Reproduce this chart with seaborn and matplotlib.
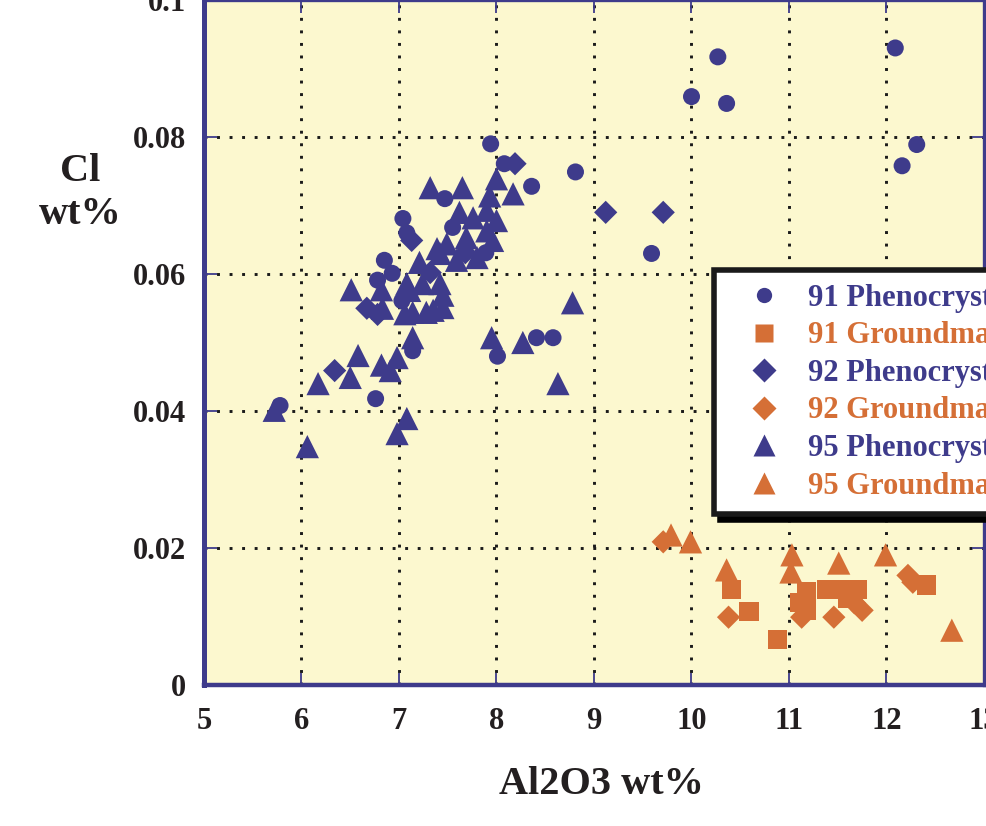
import matplotlib
matplotlib.use("Agg")
import matplotlib.pyplot as plt
from matplotlib.lines import Line2D
import seaborn as sns
import pandas as pd

# ---------------- data ----------------
p91_al = [7.94, 8.81, 8.36, 8.08, 7.47, 7.04, 7.08, 6.85, 6.93, 6.78, 7.89, 7.55, 7.03,
          7.14, 8.01, 8.41, 8.58, 6.76, 5.78, 9.59, 10.00, 10.27, 10.36, 12.09, 12.16, 12.31]
p91_cl = [0.0790, 0.0749, 0.0728, 0.0761, 0.0710, 0.0681, 0.0660, 0.0620, 0.0601, 0.0591, 0.0631, 0.0668, 0.0561,
          0.0488, 0.0480, 0.0507, 0.0507, 0.0418, 0.0408, 0.0630, 0.0859, 0.0917, 0.0849, 0.0930, 0.0758, 0.0789]

g91_al = [10.41, 10.59, 10.88, 11.18, 11.18, 11.39, 11.55, 11.70, 11.60, 12.41, 11.11]
g91_cl = [0.0139, 0.0107, 0.0066, 0.0136, 0.0109, 0.0139, 0.0139, 0.0139, 0.0127, 0.0146, 0.0121]

p92_al = [8.19, 9.12, 9.71, 7.13, 6.67, 6.78, 6.34, 7.32, 7.68]
p92_cl = [0.0761, 0.0690, 0.0690, 0.0649, 0.0550, 0.0541, 0.0459, 0.0602, 0.0631]

g92_al = [9.71, 10.38, 11.13, 11.46, 11.75, 12.22, 12.27, 11.67]
g92_cl = [0.0209, 0.0099, 0.0099, 0.0099, 0.0109, 0.0160, 0.0150, 0.0120]

p95_al = [5.72, 6.06, 6.17, 6.51, 6.82, 6.58, 6.50, 6.82, 6.98, 6.91, 7.14, 7.08, 6.98,
          6.83, 7.14, 7.06, 7.28, 7.45, 7.45, 7.08, 7.21, 7.39, 7.35, 7.24, 7.42, 7.11,
          7.49, 7.69, 7.90, 7.96, 7.42, 7.59, 7.80, 7.62, 7.76, 7.90, 8.00, 7.32, 7.65,
          8.00, 8.17, 7.93, 8.78, 7.95, 8.27, 8.63]
p95_cl = [0.0401, 0.0348, 0.0440, 0.0577, 0.0577, 0.0481, 0.0449, 0.0467, 0.0478, 0.0459, 0.0507, 0.0389, 0.0367,
          0.0550, 0.0544, 0.0542, 0.0544, 0.0551, 0.0569, 0.0586, 0.0617, 0.0637, 0.0547, 0.0586, 0.0586, 0.0576,
          0.0644, 0.0653, 0.0663, 0.0649, 0.0630, 0.0620, 0.0624, 0.0690, 0.0682, 0.0693, 0.0678, 0.0726, 0.0726,
          0.0739, 0.0717, 0.0714, 0.0558, 0.0507, 0.0500, 0.0440]

g95_al = [9.79, 9.99, 11.03, 11.02, 10.36, 11.51, 11.99, 12.67]
g95_cl = [0.0219, 0.0209, 0.0190, 0.0165, 0.0168, 0.0178, 0.0190, 0.0080]

series_names = ["91 Phenocrysts", "91 Groundmass", "92 Phenocrysts",
                "92 Groundmass", "95 Phenocrysts", "95 Groundmass"]
x_ticks = [5, 6, 7, 8, 9, 10, 11, 12, 13]
x_labels = ["5", "6", "7", "8", "9", "10", "11", "12", "13"]
y_ticks = [0, 0.02, 0.04, 0.06, 0.08, 0.1]
y_labels = ["0", "0.02", "0.04", "0.06", "0.08", "0.1"]

# ---------------- style ----------------
BLUE = "#3e3b8b"
ORANGE = "#d56f36"
BG = "#fcf8cf"
TXT = "#231f20"

sns.set_style("ticks")
plt.rcParams["font.family"] = ["Liberation Serif", "DejaVu Serif"]
plt.rcParams["font.weight"] = "bold"

frames = []
for name, xs, ys in zip(series_names,
                        [p91_al, g91_al, p92_al, g92_al, p95_al, g95_al],
                        [p91_cl, g91_cl, p92_cl, g92_cl, p95_cl, g95_cl]):
    frames.append(pd.DataFrame({"Al2O3": xs, "Cl": ys, "series": name}))
df = pd.concat(frames, ignore_index=True)

style = {
    "91 Phenocrysts": dict(marker="o", color=BLUE, s=150),
    "91 Groundmass": dict(marker="s", color=ORANGE, s=190),
    "92 Phenocrysts": dict(marker="D", color=BLUE, s=140),
    "92 Groundmass": dict(marker="D", color=ORANGE, s=140),
    "95 Phenocrysts": dict(marker="^", color=BLUE, s=280),
    "95 Groundmass": dict(marker="^", color=ORANGE, s=280),
}

fig = plt.figure(figsize=(9.87, 8.26), dpi=100)
ax = fig.add_axes([204 / 987, 141 / 826, 780 / 987, 685 / 826])
ax.set_facecolor(BG)

for name in series_names:
    st = style[name]
    sns.scatterplot(data=df[df["series"] == name], x="Al2O3", y="Cl",
                    marker=st["marker"], color=st["color"], s=st["s"],
                    edgecolor="none", linewidth=0, ax=ax, zorder=3, legend=False)

ax.set_xlim(5, 13)
ax.set_ylim(0, 0.1)
ax.set_xticks(x_ticks)
ax.set_xticklabels(x_labels)
ax.set_yticks(y_ticks)
ax.set_yticklabels(y_labels)
ax.set_xlabel("")
ax.set_ylabel("")

ax.grid(True, color="#1a1a1a", linestyle=(0, (1, 3.3)), linewidth=2.1, zorder=1)
ax.set_axisbelow(True)

for side, lw in [("left", 3.6), ("bottom", 3.2), ("right", 2.4), ("top", 2.4)]:
    ax.spines[side].set_visible(True)
    ax.spines[side].set_color(BLUE)
    ax.spines[side].set_linewidth(lw)
    ax.spines[side].set_zorder(5)

ax.tick_params(axis="both", direction="in", length=9, width=1.3, color=BLUE,
               top=True, right=True, labelsize=22, labelcolor=TXT)
ax.tick_params(axis="x", pad=16)
ax.tick_params(axis="y", pad=13)
for lab in ax.get_xticklabels() + ax.get_yticklabels():
    lab.set_fontweight("bold")

fig.text(601 / 987, 1 - 785 / 826, "Al2O3 wt%", ha="center", va="center",
         fontsize=29, fontweight="bold", color=TXT)
fig.text(80 / 987, 1 - 193 / 826, "Cl\nwt%", ha="center", va="center",
         fontsize=29, fontweight="bold", color=TXT, multialignment="center",
         linespacing=1.22)

# ---------------- legend ----------------
handles = []
for name in series_names:
    st = style[name]
    ms = {"o": 11, "s": 13, "D": 12, "^": 16}[st["marker"]]
    handles.append(Line2D([], [], linestyle="none", marker=st["marker"], color=st["color"],
                          markeredgecolor="none", markersize=ms))
leg = ax.legend(handles, series_names, loc="upper left",
                bbox_to_anchor=(714 / 987, 1 - 270 / 826), bbox_transform=fig.transFigure,
                fontsize=22, frameon=True, fancybox=False, borderpad=0.45,
                handlelength=2.37, handletextpad=0.25, labelspacing=0.28,
                borderaxespad=0, shadow={"color": "black", "alpha": 1.0, "ox": 4, "oy": -4})
leg.get_frame().set_edgecolor("#1a1a1a")
leg.get_frame().set_linewidth(4)
leg.get_frame().set_facecolor("white")
leg.set_zorder(10)
for txt, name in zip(leg.get_texts(), series_names):
    txt.set_color(style[name]["color"])
    txt.set_fontweight("bold")

fig.savefig("out.png", dpi=100, facecolor="white")
